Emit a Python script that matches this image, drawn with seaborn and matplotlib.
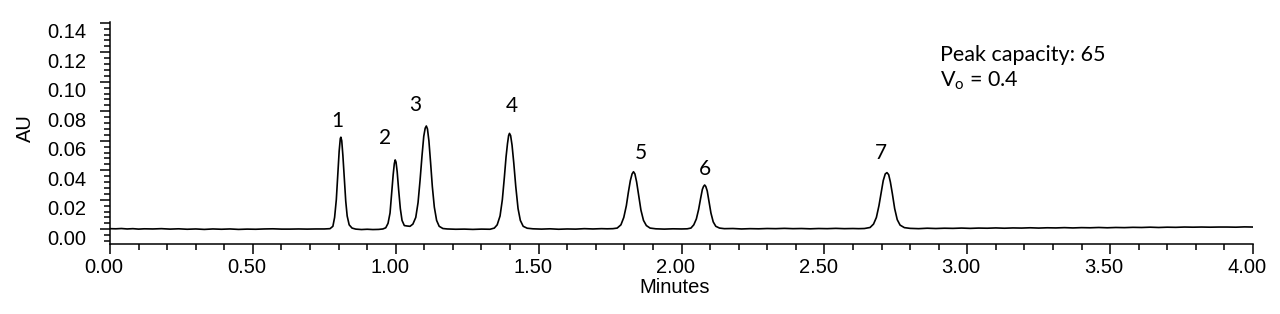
import matplotlib
matplotlib.use("Agg")
import matplotlib.pyplot as plt
import seaborn as sns
import pandas as pd
from matplotlib.ticker import AutoMinorLocator
from matplotlib.transforms import ScaledTranslation

# ---------------- data ----------------
time_min = [
    0.00, 0.02, 0.04, 0.06, 0.08, 0.10, 0.12, 0.15, 0.18, 0.21, 0.24, 0.27, 0.30, 0.33, 0.36,
    0.39, 0.42, 0.45, 0.48, 0.51, 0.54, 0.57, 0.60, 0.63, 0.66, 0.69, 0.72, 0.75, 0.770,
    # peak 1
    0.780, 0.786, 0.792, 0.797, 0.802, 0.806, 0.808, 0.811, 0.815, 0.820, 0.825, 0.830, 0.837, 0.847,
    0.860, 0.880, 0.900, 0.920, 0.940, 0.955,
    # peak 2
    0.965, 0.973, 0.980, 0.986, 0.991, 0.995, 0.998, 1.001, 1.005, 1.010, 1.016, 1.022, 1.030, 1.040,
    1.050,
    # peak 3
    1.060, 1.070, 1.078, 1.085, 1.092, 1.098, 1.103, 1.107, 1.111, 1.116, 1.122, 1.128, 1.135, 1.143,
    1.152, 1.165, 1.180, 1.210, 1.240, 1.270, 1.300, 1.330,
    # peak 4
    1.345, 1.355, 1.365, 1.373, 1.380, 1.386, 1.391, 1.395, 1.398, 1.402, 1.407, 1.413, 1.420, 1.428,
    1.436, 1.446, 1.460, 1.480, 1.510, 1.540, 1.570, 1.600, 1.630, 1.660, 1.690, 1.720, 1.740, 1.760,
    # peak 5
    1.775, 1.788, 1.798, 1.807, 1.814, 1.821, 1.827, 1.832, 1.837, 1.843, 1.850, 1.858, 1.867, 1.877,
    1.890, 1.910, 1.940, 1.970, 2.000, 2.020,
    # peak 6
    2.033, 2.043, 2.052, 2.060, 2.067, 2.073, 2.077, 2.081, 2.085, 2.090, 2.096, 2.103, 2.111, 2.120,
    2.133, 2.150, 2.180, 2.210, 2.240, 2.270, 2.300, 2.330, 2.360, 2.390, 2.420, 2.450, 2.480, 2.510,
    2.540, 2.570, 2.600, 2.620, 2.640,
    # peak 7
    2.660, 2.672, 2.682, 2.691, 2.699, 2.706, 2.713, 2.719, 2.725, 2.731, 2.738, 2.746, 2.755, 2.765,
    2.780, 2.800, 2.830, 2.860, 2.890, 2.920, 2.950, 2.980, 3.010, 3.040, 3.070, 3.100, 3.130, 3.160,
    3.190, 3.220, 3.250, 3.280, 3.310, 3.340, 3.370, 3.400, 3.430, 3.460, 3.490, 3.520, 3.550, 3.580,
    3.610, 3.640, 3.670, 3.700, 3.730, 3.760, 3.790, 3.820, 3.850, 3.880, 3.910, 3.940, 3.970, 4.000,
]
absorbance = [
    0.0004, 0.0003, 0.0005, 0.0002, 0.0004, 0.0001, 0.0003, 0.0002, 0.0004, 0.0001, 0.0003, 0.0000,
    0.0002, -0.0001, 0.0002, 0.0000, 0.0002, -0.0001, 0.0001, 0.0000, 0.0002, 0.0003, 0.0001, 0.0001,
    0.0002, 0.0001, 0.0002, 0.0002, 0.0004,
    # peak 1
    0.0020, 0.0080, 0.0200, 0.0370, 0.0530, 0.0615, 0.0624, 0.0600, 0.0500, 0.0340, 0.0190, 0.0090,
    0.0030, 0.0008,
    0.0001, -0.0002, 0.0000, -0.0002, -0.0001, 0.0002,
    # peak 2
    0.0010, 0.0040, 0.0110, 0.0250, 0.0370, 0.0445, 0.0470, 0.0455, 0.0390, 0.0270, 0.0140, 0.0060,
    0.0025, 0.0022,
    0.0020,
    # peak 3
    0.0035, 0.0080, 0.0180, 0.0330, 0.0500, 0.0630, 0.0685, 0.0700, 0.0680, 0.0600, 0.0450, 0.0290,
    0.0150, 0.0060, 0.0020, 0.0005, 0.0002, 0.0000, 0.0001, -0.0001, 0.0001, 0.0000,
    # peak 4
    0.0008, 0.0030, 0.0090, 0.0200, 0.0350, 0.0490, 0.0580, 0.0635, 0.0650, 0.0635, 0.0570, 0.0450,
    0.0290, 0.0140, 0.0060, 0.0020, 0.0007, 0.0003, 0.0001, 0.0003, 0.0000, 0.0002, 0.0001, 0.0004,
    0.0002, 0.0004, 0.0003, 0.0004,
    # peak 5
    0.0008, 0.0030, 0.0080, 0.0160, 0.0250, 0.0330, 0.0375, 0.0390, 0.0375, 0.0320, 0.0230, 0.0130,
    0.0060, 0.0025, 0.0008, 0.0003, 0.0001, 0.0003, 0.0002, 0.0003,
    # peak 6
    0.0008, 0.0030, 0.0070, 0.0135, 0.0210, 0.0270, 0.0290, 0.0300, 0.0290, 0.0260, 0.0190, 0.0110,
    0.0050, 0.0020, 0.0008, 0.0004, 0.0005, 0.0002, 0.0004, 0.0003, 0.0005, 0.0004, 0.0006, 0.0004,
    0.0005, 0.0003, 0.0005, 0.0004, 0.0006, 0.0004, 0.0005, 0.0004, 0.0005,
    # peak 7
    0.0012, 0.0035, 0.0080, 0.0160, 0.0250, 0.0330, 0.0375, 0.0384, 0.0370, 0.0320, 0.0240, 0.0140,
    0.0065, 0.0028, 0.0011, 0.0006, 0.0004, 0.0007, 0.0005, 0.0007, 0.0006, 0.0008, 0.0006, 0.0008,
    0.0007, 0.0009, 0.0007, 0.0009, 0.0008, 0.0010, 0.0008, 0.0010, 0.0009, 0.0011, 0.0009, 0.0011,
    0.0010, 0.0012, 0.0010, 0.0012, 0.0011, 0.0013, 0.0012, 0.0014, 0.0012, 0.0014, 0.0013, 0.0015,
    0.0014, 0.0015, 0.0014, 0.0015, 0.0015, 0.0014, 0.0016, 0.0015,
]

peak_ids = ["1", "2", "3", "4", "5", "6", "7"]
peak_label_x = [0.794, 0.963, 1.068, 1.406, 1.858, 2.083, 2.698]
peak_label_y = [0.0733, 0.0621, 0.0843, 0.0836, 0.0515, 0.0407, 0.0519]

x_ticks = [0.0, 0.5, 1.0, 1.5, 2.0, 2.5, 3.0, 3.5, 4.0]
y_ticks = [0.00, 0.02, 0.04, 0.06, 0.08, 0.10, 0.12, 0.14]

info_lines = ["Peak capacity: 65", "V$_\\mathregular{o}$ = 0.4"]

# ---------------- plot ----------------
sns.set_theme(style="ticks")
plt.rcParams["font.family"] = ["Liberation Sans", "DejaVu Sans"]

df = pd.DataFrame({"Minutes": time_min, "AU": absorbance})

fig = plt.figure(figsize=(12.8, 3.14), dpi=100)
ax = fig.add_axes([110 / 1280, 1 - 244.3 / 314, 1143 / 1280, 222.3 / 314])

sns.lineplot(data=df, x="Minutes", y="AU", ax=ax, color="black", linewidth=1.2,
             estimator=None, sort=False)

ax.set_xlim(0, 4)
ax.set_ylim(-0.0102, 0.1405)
ax.spines["top"].set_visible(False)
ax.spines["right"].set_visible(False)
for s in ("left", "bottom"):
    ax.spines[s].set_linewidth(1.1)
    ax.spines[s].set_color("black")

ax.set_xticks(x_ticks)
ax.set_xticklabels([f"{v:.2f}" for v in x_ticks])
ax.set_yticks(y_ticks)
ax.set_yticklabels([f"{v:.2f}" for v in y_ticks])
ax.xaxis.set_minor_locator(AutoMinorLocator(5))
ax.yaxis.set_minor_locator(AutoMinorLocator(5))

ax.tick_params(axis="both", which="major", direction="out", length=7, width=1.1,
               colors="black", labelsize=14.5)
ax.tick_params(axis="both", which="minor", direction="out", length=4, width=1.1, colors="black")
ax.tick_params(axis="x", which="major", pad=3)
ax.tick_params(axis="y", which="major", pad=10)

# the reference's tick labels sit slightly off their ticks
for lbl in ax.get_yticklabels():
    lbl.set_transform(lbl.get_transform() + ScaledTranslation(0, -8 / 100, fig.dpi_scale_trans))
for lbl in ax.get_xticklabels():
    lbl.set_transform(lbl.get_transform() + ScaledTranslation(-6 / 100, 0, fig.dpi_scale_trans))

ax.set_xlabel("Minutes", fontsize=14.5, color="black")
ax.set_ylabel("AU", fontsize=14.5, color="black")
ax.xaxis.set_label_coords(0.494, -0.15)
ax.yaxis.set_label_coords(-0.066, 0.523)

for pid, px, py in zip(peak_ids, peak_label_x, peak_label_y):
    ax.text(px, py, pid, ha="center", va="center", fontsize=15, family=["Lato", "DejaVu Sans"],
            color="black")

ax.text(0.726, 0.853, info_lines[0], transform=ax.transAxes, ha="left", va="center",
        fontsize=15.5, family=["Lato", "DejaVu Sans"], color="black")
ax.text(0.726, 0.736, info_lines[1], transform=ax.transAxes, ha="left", va="center",
        fontsize=15.5, family=["Lato", "DejaVu Sans"], color="black")

ax.grid(False)
fig.savefig("out.png", dpi=100, facecolor="white")
